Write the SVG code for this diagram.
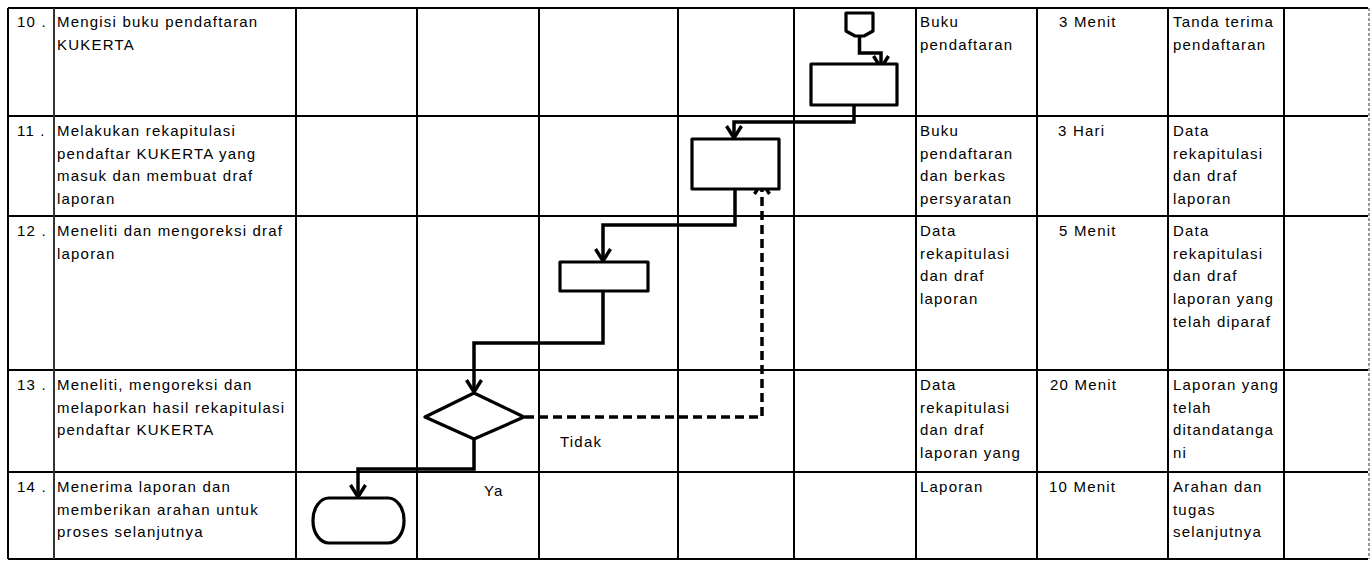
<svg xmlns="http://www.w3.org/2000/svg" width="1372" height="562" viewBox="0 0 1372 562">
<style>
.grid{stroke:#000;stroke-width:2;fill:none}
.t{font-family:"Liberation Sans",Arial,sans-serif;font-size:15px;letter-spacing:1.2px;fill:#000}
.shape{fill:#fff;stroke:#000;stroke-width:3.2;stroke-linejoin:round}
.conn{fill:none;stroke:#000;stroke-width:3.5;stroke-linejoin:miter}
.dash{stroke-dasharray:9 5}
</style>
<defs>
<marker id="arr" viewBox="-14 -10 16 20" refX="0" refY="0" markerWidth="16" markerHeight="20" markerUnits="userSpaceOnUse" orient="auto">
<path d="M-12,-7.5 L0,0 L-12,7.5" fill="none" stroke="#000" stroke-width="3.4" stroke-linejoin="miter"/>
</marker>
</defs>
<rect width="1372" height="562" fill="#fff"/>
<g id="table">
<path class="grid" d="M8,8 H1368 M8,116 H1368 M8,216 H1368 M8,370 H1368 M8,472 H1368 M8,559 H1368"/>
<path class="grid" d="M8,8 V559 M296,8 V559 M417,8 V559 M539,8 V559 M678,8 V559 M794,8 V559 M916,8 V559 M1037,8 V559 M1168,8 V559 M1284,8 V559"/>
<path d="M54,8 V559" stroke="#333" stroke-width="2"/>
<path d="M1369,8 V559" stroke="#999" stroke-width="2" stroke-dasharray="3 2"/>
</g>
<g id="row10" class="t">
<text x="17" y="27">10 .</text>
<text x="57" y="27">Mengisi buku pendaftaran</text>
<text x="57" y="50">KUKERTA</text>
<text x="920" y="27">Buku</text>
<text x="920" y="50">pendaftaran</text>
<text x="1059" y="27">3 Menit</text>
<text x="1173" y="27">Tanda terima</text>
<text x="1173" y="50">pendaftaran</text>
</g>
<g id="row11" class="t">
<text x="17" y="136">11 .</text>
<text x="57" y="136">Melakukan rekapitulasi</text>
<text x="57" y="158.7">pendaftar KUKERTA yang</text>
<text x="57" y="181.4">masuk dan membuat draf</text>
<text x="57" y="204.1">laporan</text>
<text x="920" y="136">Buku</text>
<text x="920" y="158.7">pendaftaran</text>
<text x="920" y="181.4">dan berkas</text>
<text x="920" y="204.1">persyaratan</text>
<text x="1058" y="136">3 Hari</text>
<text x="1173" y="136">Data</text>
<text x="1173" y="158.7">rekapitulasi</text>
<text x="1173" y="181.4">dan draf</text>
<text x="1173" y="204.1">laporan</text>
</g>
<g id="row12" class="t">
<text x="17" y="236">12 .</text>
<text x="57" y="236">Meneliti dan mengoreksi draf</text>
<text x="57" y="258.7">laporan</text>
<text x="920" y="236">Data</text>
<text x="920" y="258.7">rekapitulasi</text>
<text x="920" y="281.4">dan draf</text>
<text x="920" y="304.1">laporan</text>
<text x="1059" y="236">5 Menit</text>
<text x="1173" y="236">Data</text>
<text x="1173" y="258.7">rekapitulasi</text>
<text x="1173" y="281.4">dan draf</text>
<text x="1173" y="304.1">laporan yang</text>
<text x="1173" y="326.8">telah diparaf</text>
</g>
<g id="row13" class="t">
<text x="17" y="390">13 .</text>
<text x="57" y="390">Meneliti, mengoreksi dan</text>
<text x="57" y="412.7">melaporkan hasil rekapitulasi</text>
<text x="57" y="435.4">pendaftar KUKERTA</text>
<text x="920" y="390">Data</text>
<text x="920" y="412.7">rekapitulasi</text>
<text x="920" y="435.4">dan draf</text>
<text x="920" y="458.1">laporan yang</text>
<text x="1050" y="390">20 Menit</text>
<text x="1173" y="390">Laporan yang</text>
<text x="1173" y="412.7">telah</text>
<text x="1173" y="435.4">ditandatanga</text>
<text x="1173" y="458.1">ni</text>
</g>
<g id="row14" class="t">
<text x="17" y="492">14 .</text>
<text x="57" y="492">Menerima laporan dan</text>
<text x="57" y="514.7">memberikan arahan untuk</text>
<text x="57" y="537.4">proses selanjutnya</text>
<text x="920" y="492">Laporan</text>
<text x="1049" y="492">10 Menit</text>
<text x="1173" y="492">Arahan dan</text>
<text x="1173" y="514.7">tugas</text>
<text x="1173" y="537.4">selanjutnya</text>
</g>
<g id="connectors">
<path class="conn" d="M859.5,36 V53 H881 V68" marker-end="url(#arr)"/>
<path class="conn" d="M854,105 V122 H734 V138" marker-end="url(#arr)"/>
<path class="conn" d="M735,189 V225 H603 V261" marker-end="url(#arr)"/>
<path class="conn" d="M603,291 V343 H474 V392" marker-end="url(#arr)"/>
<path class="conn dash" d="M525,417 H762 V182" marker-end="url(#arr)"/>
<path class="conn" d="M474,439 V469 H358 V497" marker-end="url(#arr)"/>
</g>
<g id="node-offpage"><polygon class="shape" points="846,13 873,13 873,31 864,36 855,36 846,31"/></g>
<g id="node-p10"><rect class="shape" x="811" y="64" width="86" height="41"/></g>
<g id="node-p11"><rect class="shape" x="692" y="139" width="87" height="50"/></g>
<g id="node-p12"><rect class="shape" x="560" y="262" width="88" height="29"/></g>
<g id="node-decision"><polygon class="shape" points="474,393 524,417 474,439 425,417"/></g>
<g id="node-end"><rect class="shape" x="313" y="498" width="91" height="45" rx="16" ry="22"/></g>
<g id="labels" class="t">
<text x="560" y="447">Tidak</text>
<text x="484" y="496">Ya</text>
</g>
</svg>
